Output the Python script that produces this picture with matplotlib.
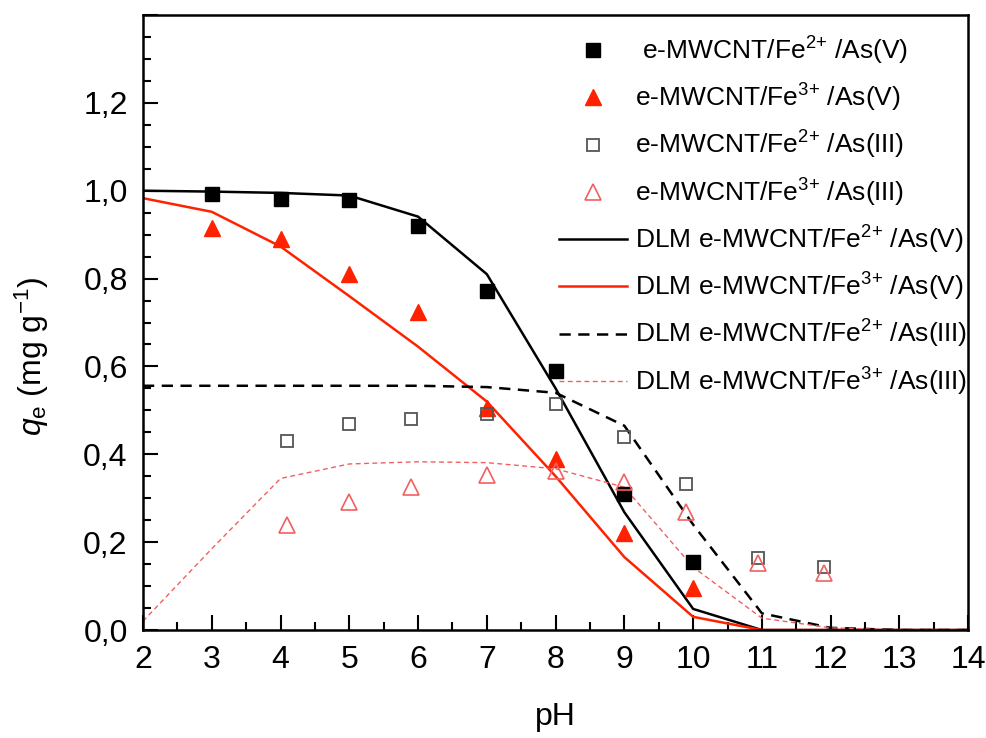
# -*- coding: utf-8 -*-
"""
qe vs pH for e-MWCNT/Fe/As adsorption, with DLM model curves
"""
import matplotlib
matplotlib.use('Agg')
import matplotlib.pyplot as plt
from matplotlib.ticker import MultipleLocator, FuncFormatter

# === DATA ===
ph_fe2_as5 = [3, 4, 5, 6, 7, 8, 9, 10]
qe_fe2_as5 = [0.993, 0.982, 0.978, 0.92, 0.772, 0.59, 0.31, 0.154]

ph_fe3_as5 = [3, 4, 5, 6, 7, 8, 9, 10]
qe_fe3_as5 = [0.914, 0.889, 0.81, 0.725, 0.505, 0.39, 0.22, 0.095]

ph_fe2_as3 = [4.1, 5.0, 5.9, 7.0, 8.0, 9.0, 9.9, 10.95, 11.9]
qe_fe2_as3 = [0.431, 0.469, 0.48, 0.492, 0.515, 0.44, 0.332, 0.165, 0.143]

ph_fe3_as3 = [4.1, 5.0, 5.9, 7.0, 8.0, 9.0, 9.9, 10.95, 11.9]
qe_fe3_as3 = [0.238, 0.292, 0.325, 0.354, 0.363, 0.336, 0.268, 0.152, 0.129]

ph_model = [2, 3, 4, 5, 6, 7, 8, 9, 10, 11, 12, 13, 14]
dlm_fe2_as5 = [1.0, 0.998, 0.995, 0.989, 0.941, 0.81, 0.55, 0.268, 0.048,
               0.0, 0.0, 0.0, 0.0]
dlm_fe3_as5 = [0.983, 0.952, 0.873, 0.76, 0.645, 0.52, 0.35, 0.166, 0.03,
               0.0, 0.0, 0.0, 0.0]
dlm_fe2_as3 = [0.556, 0.556, 0.556, 0.556, 0.556, 0.553, 0.54, 0.465, 0.24,
               0.038, 0.005, 0.0, 0.0]
dlm_fe3_as3 = [0.02, 0.185, 0.345, 0.378, 0.383, 0.381, 0.367, 0.325, 0.143,
               0.027, 0.005, 0.0, 0.0]

labels = [' e-MWCNT/Fe$^{2{+}}$ /As(V)',
          'e-MWCNT/Fe$^{3{+}}$ /As(V)',
          'e-MWCNT/Fe$^{2{+}}$ /As(III)',
          'e-MWCNT/Fe$^{3{+}}$ /As(III)',
          'DLM e-MWCNT/Fe$^{2{+}}$ /As(V)',
          'DLM e-MWCNT/Fe$^{3{+}}$ /As(V)',
          'DLM e-MWCNT/Fe$^{2{+}}$ /As(III)',
          'DLM e-MWCNT/Fe$^{3{+}}$ /As(III)']

RED = '#ff2200'
LRED = '#f06060'

plt.rcParams['font.family'] = ['Liberation Sans', 'DejaVu Sans']
plt.rcParams['mathtext.fontset'] = 'custom'
plt.rcParams['mathtext.rm'] = 'Liberation Sans'
plt.rcParams['mathtext.it'] = 'Liberation Sans:italic'

# === PLOT ===
fig = plt.figure(figsize=(9.86, 7.38), dpi=100)
ax = fig.add_axes([0.145, 0.1463, 0.837, 0.8334])

h = []
h += ax.plot(ph_fe2_as5, qe_fe2_as5, ls='none', marker='s', ms=9.5,
             color='black', zorder=5)
h += ax.plot(ph_fe3_as5, qe_fe3_as5, ls='none', marker='^', ms=11,
             color=RED, zorder=5)
h += ax.plot(ph_fe2_as3, qe_fe2_as3, ls='none', marker='s', ms=9,
             mfc='none', mec='#555555', mew=1.3, zorder=5)
h += ax.plot(ph_fe3_as3, qe_fe3_as3, ls='none', marker='^', ms=11,
             mfc='none', mec=LRED, mew=1.2, zorder=5)
h += ax.plot(ph_model, dlm_fe2_as5, color='black', lw=1.8)
h += ax.plot(ph_model, dlm_fe3_as5, color=RED, lw=1.8)
h += ax.plot(ph_model, dlm_fe2_as3, color='black', lw=1.8, dashes=(4.5, 3))
h += ax.plot(ph_model, dlm_fe3_as3, color=LRED, lw=1.0, dashes=(3.5, 2.5))

ax.legend(h, labels, loc='upper right', frameon=False, fontsize=19,
          handlelength=2.6, labelspacing=0.57, handletextpad=0.3,
          borderaxespad=0.0, borderpad=0.0, bbox_to_anchor=(0.999, 0.968))

# axes limits & ticks
ax.set_xlim(2, 14)
ax.set_ylim(0, 1.4)
ax.xaxis.set_major_locator(MultipleLocator(1))
ax.xaxis.set_minor_locator(MultipleLocator(0.5))
ax.yaxis.set_major_locator(MultipleLocator(0.2))
ax.yaxis.set_minor_locator(MultipleLocator(0.05))
ax.yaxis.set_major_formatter(
    FuncFormatter(lambda v, p: ('%.1f' % v).replace('.', ',') if v < 1.3 else ''))
ax.tick_params(axis='both', which='both', direction='in', top=False,
               right=False, labelsize=23, width=1.5)
ax.tick_params(axis='y', which='major', length=11, pad=11)
ax.tick_params(axis='x', which='major', length=11, pad=11)
ax.tick_params(axis='both', which='minor', length=6)
for sp in ax.spines.values():
    sp.set_linewidth(1.8)

ax.set_xlabel('pH', fontsize=23, labelpad=19)
ax.set_ylabel(r'$q_\mathrm{e}$ (mg g$^{-1}$)', fontsize=23)
ax.yaxis.set_label_coords(-0.112, 0.445)

fig.savefig('out.png', dpi=100)
plt.close()
